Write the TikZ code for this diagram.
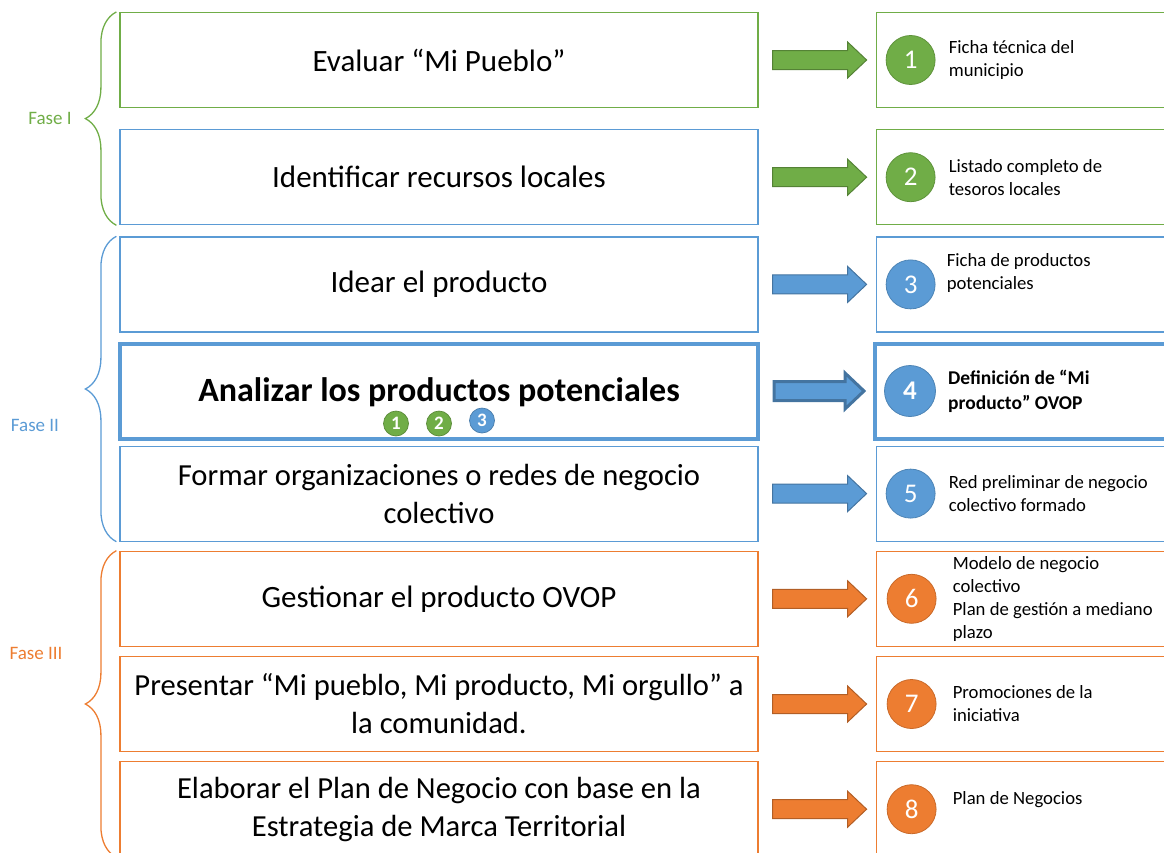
\documentclass[tikz,border=0pt]{standalone}
\usepackage{fontspec}
\setmainfont{Carlito}
\usepackage{tikz}
\usetikzlibrary{positioning,calc,decorations.pathreplacing}

\definecolor{ovgreen}{HTML}{70AD47}
\definecolor{ovblue}{HTML}{5B9BD5}
\definecolor{ovorange}{HTML}{ED7D31}

\begin{document}
\begin{tikzpicture}[
    x=1pt, y=-1pt,
    stepbox/.style={rectangle, draw=#1, line width=1.2pt, minimum width=638pt, minimum height=95pt, align=center, font=\fontsize{31}{37}\selectfont},
    twoline/.style={font=\fontsize{30.6}{38}\selectfont},
    outbox/.style={rectangle, draw=#1, line width=1.2pt, minimum width=300pt, minimum height=95pt},
    badge/.style={circle, fill=#1, draw=#1!85!black, line width=0.8pt, minimum size=49pt, inner sep=0pt, text=white, font=\fontsize{27}{30}\selectfont},
    minibadge/.style={circle, fill=#1, draw=#1!80!black, line width=0.7pt, minimum size=25pt, inner sep=0pt, text=white, font=\bfseries\fontsize{19}{20}\selectfont},
    outtext/.style={anchor=west, align=left, inner sep=0pt, font=\fontsize{18.7}{23}\selectfont},
    bigarrow/.style={fill=#1, draw=#1!75!black, line width=1pt, to path={let \p1=(\tikztostart.east), \p2=(\tikztotarget.west) in (\x1+14pt,\y1+9.5pt) -- (\x2-28pt,\y1+9.5pt) -- (\x2-28pt,\y1+18pt) -- (\x2-9pt,\y1) -- (\x2-28pt,\y1-18pt) -- (\x2-28pt,\y1-9.5pt) -- (\x1+14pt,\y1-9.5pt) -- cycle}},
    phase/.style={decorate, decoration={brace, amplitude=31pt}, line width=1.3pt, draw=#1},
    phaselabel/.style={text=#1, font=\fontsize{19}{22}\selectfont}
]
    \useasboundingbox (0,0) rectangle (1164,852);
    \clip (0,0) rectangle (1164,852);

    % Steps
    \node[stepbox=ovgreen] (r1) at (439,60) {Evaluar “Mi Pueblo”};
    \node[stepbox=ovblue, below=21pt of r1] (r2) {Identificar recursos locales};
    \node[stepbox=ovblue, below=11pt of r2] (r3) {Idear el producto};
    \node[stepbox=ovblue, line width=4pt, font=\bfseries\fontsize{34}{40}\selectfont, text height=27pt, text depth=7pt, below=9pt of r3] (r4) {Analizar los productos potenciales};
    \node[stepbox=ovblue, twoline, below=5pt of r4] (r5) {Formar organizaciones o redes de negocio\\colectivo};
    \node[stepbox=ovorange, below=9pt of r5] (r6) {Gestionar el producto OVOP};
    \node[stepbox=ovorange, twoline, below=9pt of r6] (r7) {Presentar “Mi pueblo, Mi producto, Mi orgullo” a\\la comunidad.};
    \node[stepbox=ovorange, twoline, below=9pt of r7] (r8) {Elaborar el Plan de Negocio con base en la\\Estrategia de Marca Territorial};

    % Inputs of step 4
    \node[minibadge=ovgreen] (s1) at ([xshift=-43pt,yshift=17pt]r4.south) {1};
    \node[minibadge=ovgreen] (s2) at ([yshift=17pt]r4.south) {2};
    \node[minibadge=ovblue] (s3) at ([xshift=43pt,yshift=20pt]r4.south) {3};

    % Outputs
    \node[outbox=ovgreen, right=117pt of r1] (o1) {};
    \node[outbox=ovgreen, right=117pt of r2] (o2) {};
    \node[outbox=ovblue, right=117pt of r3] (o3) {};
    \node[outbox=ovblue, line width=4pt, right=113pt of r4] (o4) {};
    \node[outbox=ovblue, right=117pt of r5] (o5) {};
    \node[outbox=ovorange, right=117pt of r6] (o6) {};
    \node[outbox=ovorange, right=117pt of r7] (o7) {};
    \node[outbox=ovorange, right=117pt of r8] (o8) {};

    \node[badge=ovgreen] (c1) at ([xshift=35pt]o1.west) {1};
    \node[badge=ovgreen] (c2) at ([xshift=35pt]o2.west) {2};
    \node[badge=ovblue] (c3) at ([xshift=35pt]o3.west) {3};
    \node[badge=ovblue, minimum size=51pt] (c4) at ([xshift=37pt]o4.west) {\textbf{4}};
    \node[badge=ovblue] (c5) at ([xshift=35pt]o5.west) {5};
    \node[badge=ovorange] (c6) at ([xshift=36pt]o6.west) {6};
    \node[badge=ovorange] (c7) at ([xshift=36pt]o7.west) {7};
    \node[badge=ovorange] (c8) at ([xshift=36pt]o8.west) {8};

    \node[outtext] (t1) at ([xshift=73pt]o1.west) {Ficha técnica del\\municipio};
    \node[outtext] (t2) at ([xshift=73pt]o2.west) {Listado completo de\\tesoros locales};
    \node[outtext] (t3) at ([xshift=71pt,yshift=11pt]o3.west) {Ficha de productos\\potenciales};
    \node[outtext, font=\bfseries\fontsize{19.5}{25}\selectfont] (t4) at ([xshift=75pt]o4.west) {Definición de “Mi\\producto” OVOP};
    \node[outtext] (t5) at ([xshift=73pt]o5.west) {Red preliminar de negocio\\colectivo formado};
    \node[outtext] (t6) at ([xshift=77pt]o6.west) {Modelo de negocio\\colectivo\\Plan de gestión a mediano\\plazo};
    \node[outtext] (t7) at ([xshift=77pt]o7.west) {Promociones de la\\iniciativa};
    \node[outtext] (t8) at ([xshift=77pt,yshift=10pt]o8.west) {Plan de Negocios};

    % Arrows step -> output
    \draw[bigarrow=ovgreen] (r1) to (o1);
    \draw[bigarrow=ovgreen] (r2) to (o2);
    \draw[bigarrow=ovblue] (r3) to (o3);
    \draw[bigarrow=ovblue, line width=3pt] (r4) to (o4);
    \draw[bigarrow=ovblue] (r5) to (o5);
    \draw[bigarrow=ovorange] (r6) to (o6);
    \draw[bigarrow=ovorange] (r7) to (o7);
    \draw[bigarrow=ovorange] (r8) to (o8);

    % Phases
    \draw[phase=ovgreen] ([xshift=-3pt]r2.south west) -- ([xshift=-3pt]r1.north west);
    \draw[phase=ovblue] ([xshift=-3pt]r5.south west) -- ([xshift=-3pt]r3.north west);
    \draw[phase=ovorange] ([xshift=-3pt]r8.south west) -- ([xshift=-3pt]r6.north west);

    \node[phaselabel=ovgreen] (f1) at (50,118) {Fase I};
    \node[phaselabel=ovblue] (f2) at (35,425) {Fase II};
    \node[phaselabel=ovorange] (f3) at (36,653) {Fase III};
\end{tikzpicture}
\end{document}
